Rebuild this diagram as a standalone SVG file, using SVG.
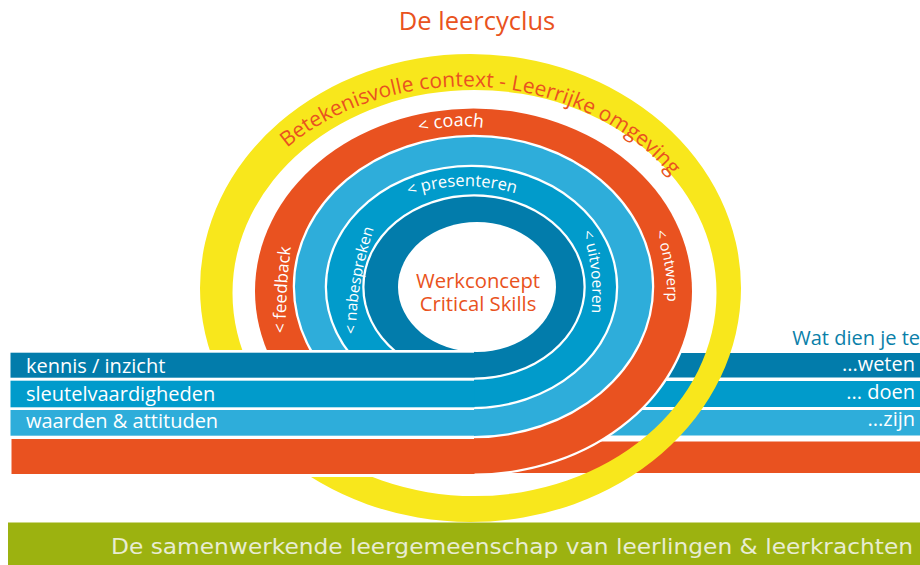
<svg xmlns="http://www.w3.org/2000/svg" width="920" height="565" viewBox="0 0 920 565">
<defs>
<style>
text{font-family:"Open Sans","Noto Sans","Liberation Sans",sans-serif}
.w{fill:#fff}
.o{fill:#e95220}
.ring{stroke:#fff;stroke-width:4.500;paint-order:stroke}
.dark{fill:#027cab}.mid{fill:#019bcb}.light{fill:#2eadda}.orange{fill:#e95220}
.bar{font-size:20px}
.end{text-anchor:end;font-size:20px}
</style>
<path id="p-ctx" d="M281,153 A249,204 0 0 1 714,290"/>
<path id="p-coach" d="M420,133 Q455,121 494,130"/>
<path id="p-feedback" d="M286,333 Q285,290 292,238"/>
<path id="p-nabes" d="M356,334 Q356,280 376,222"/>
<path id="p-pres" d="M409,196 Q464,176 524,196"/>
<path id="p-uit" d="M582,232 Q596,270 591,318"/>
<path id="p-ont" d="M655,232 Q669,265 667,308"/>
</defs>
<rect width="920" height="565" fill="#fff"/>
<g id="title"><text x="477" y="30" text-anchor="middle" font-size="25.500" class="o">De leercyclus</text></g>
<g id="bars-right">
<rect x="470" y="353" width="450" height="24.500" class="dark"/>
<rect x="470" y="381" width="450" height="26" class="mid"/>
<rect x="470" y="410" width="450" height="25.500" class="light"/>
<rect x="470" y="441.500" width="450" height="31.500" class="orange"/>
</g>
<g id="ring-context"><path fill="#f8e71c" fill-rule="evenodd" d="M200,288 A270.500,234 0 1 1 741,288 A270.500,234 0 1 1 200,288 Z M232.500,293 A242,203 0 1 0 716.500,293 A242,203 0 1 0 232.500,293 Z"/></g>
<g id="ring-orange"><ellipse class="ring orange" cx="473.500" cy="291" rx="218.500" ry="182.500"/></g>
<g id="ring-light"><ellipse class="ring light" cx="473.500" cy="286.500" rx="178.500" ry="149.500"/></g>
<g id="ring-mid"><ellipse class="ring mid" cx="471.500" cy="287" rx="144.500" ry="120"/></g>
<g id="ring-dark"><ellipse class="ring dark" cx="474" cy="287" rx="109.500" ry="90.500"/></g>
<g id="hole"><ellipse cx="477" cy="287" rx="79" ry="65" fill="#fff"/></g>
<rect x="0" y="350" width="474" height="127" fill="#fff"/>
<g id="bars-left">
<rect x="10.500" y="352.700" width="464" height="25" class="dark"/>
<rect x="10.500" y="380.700" width="464" height="26.600" class="mid"/>
<rect x="10.500" y="410" width="464" height="25.700" class="light"/>
<rect x="11.500" y="439" width="463" height="35" class="orange"/>
</g>
<g id="bottom-band"><rect x="8" y="522.500" width="912" height="42.500" fill="#9cb210"/>
<text x="111" y="553.500" font-size="21" fill="#e8ecd2" textLength="802" lengthAdjust="spacingAndGlyphs" style="font-family:'DejaVu Sans',sans-serif">De samenwerkende leergemeenschap van leerlingen &amp; leerkrachten</text></g>
<g id="labels-rings">
<text class="o" font-size="21"><textPath href="#p-ctx" startOffset="8">Betekenisvolle context - Leerrijke omgeving</textPath></text>
<text class="w" font-size="18"><textPath href="#p-coach">&lt; coach</textPath></text>
<text class="w" font-size="17"><textPath href="#p-feedback">&lt; feedback</textPath></text>
<text class="w" font-size="15.500"><textPath href="#p-nabes">&lt; nabespreken</textPath></text>
<text class="w" font-size="16.500"><textPath href="#p-pres">&lt; presenteren</textPath></text>
<text class="w" font-size="15.500"><textPath href="#p-uit">&lt; uitvoeren</textPath></text>
<text class="w" font-size="15"><textPath href="#p-ont">&lt; ontwerp</textPath></text>
</g>
<g id="center-label">
<text x="478" y="288" text-anchor="middle" font-size="20.300" class="o">Werkconcept</text>
<text x="478" y="311" text-anchor="middle" font-size="20.300" class="o">Critical Skills</text>
</g>
<g id="labels-left">
<text x="26" y="373" class="w bar">kennis / inzicht</text>
<text x="26" y="401" class="w bar">sleutelvaardigheden</text>
<text x="26" y="428" class="w bar">waarden &amp; attituden</text>
</g>
<g id="labels-right">
<text x="920" y="345" class="end" fill="#0b7fa9">Wat dien je te</text>
<text x="915" y="371" class="w end">...weten</text>
<text x="915" y="399" class="w end">... doen</text>
<text x="915" y="426" class="w end">...zijn</text>
</g>
</svg>
